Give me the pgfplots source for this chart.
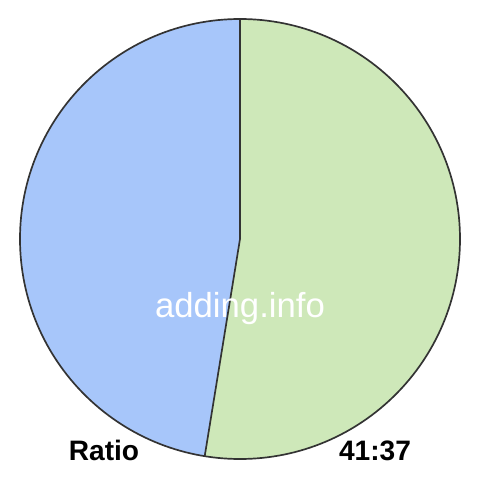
\documentclass[border=0pt]{standalone}
\usepackage{pgfplots}
\usepackage{pgfplotstable}
\pgfplotsset{compat=1.18}
\usepackage{fontspec}
\setmainfont{Liberation Sans}

\definecolor{sliceA}{RGB}{206,232,185}
\definecolor{sliceB}{RGB}{167,198,250}
\definecolor{edge}{RGB}{51,51,51}

\pgfplotstableread{
part value
a 41
b 37
}\ratios

\begin{document}
\begin{tikzpicture}
\pgfplotstablegetelem{0}{value}\of\ratios \let\va\pgfplotsretval
\pgfplotstablegetelem{1}{value}\of\ratios \let\vb\pgfplotsretval
\pgfmathsetmacro{\cut}{90-360*\va/(\va+\vb)}
\pgfmathsetmacro{\cx}{5.5*cos(\cut)}
\pgfmathsetmacro{\cy}{5.5*sin(\cut)}
\useasboundingbox (0,0) rectangle (12cm,12cm);
\begin{axis}[
  at={(6cm,6.025cm)}, anchor=origin,
  x=1cm, y=1cm,
  xmin=-6, xmax=6, ymin=-6.025, ymax=5.975,
  hide axis, clip=false]
  % slices, clockwise from the top
  \fill[sliceA] (axis cs:0,0) -- (axis cs:0,5.5) arc[start angle=90, end angle=\cut, radius=5.5cm] -- cycle;
  \fill[sliceB] (axis cs:0,0) -- (axis cs:\cx,\cy) arc[start angle=\cut, end angle=-270, radius=5.5cm] -- cycle;
  \draw[edge, line width=1.2pt] (axis cs:0,5.5) -- (axis cs:0,0) -- (axis cs:\cx,\cy);
  \draw[edge, line width=1.2pt] (axis cs:0,0) circle[radius=5.5cm];
  \node[white, anchor=base, font=\fontsize{24.7}{24.7}\selectfont] at (axis cs:0,-1.95) {adding.info};
  \node[black, anchor=base, font=\fontsize{20}{20}\selectfont\bfseries] at (axis cs:-3.4,-5.525) {Ratio};
  \node[black, anchor=base, font=\fontsize{20}{20}\selectfont\bfseries] at (axis cs:3.375,-5.525) {\va:\vb};
\end{axis}
\end{tikzpicture}
\end{document}
